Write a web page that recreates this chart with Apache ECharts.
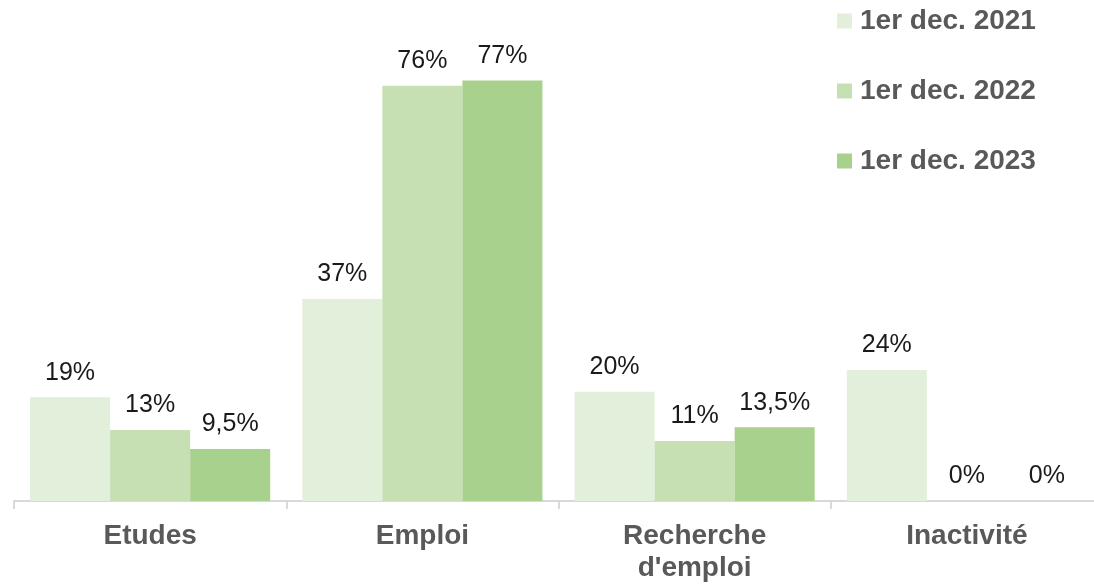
<!DOCTYPE html>
<html>
<head>
<meta charset="utf-8">
<script src="https://cdn.jsdelivr.net/npm/echarts@6/dist/echarts.min.js"></script>
<style>
  html, body { margin: 0; padding: 0; background: #fff; overflow: hidden; }
  #chart { width: 1103px; height: 586px; }
</style>
</head>
<body>
<div id="chart"></div>
<script>
var categories = ['Etudes', 'Emploi', "Recherche\nd'emploi", 'Inactivité'];
var seriesNames = ['1er dec. 2021', '1er dec. 2022', '1er dec. 2023'];
var values2021 = [19, 37, 20, 24];
var values2022 = [13, 76, 11, 0];
var values2023 = [9.5, 77, 13.5, 0];
var colors = ['#E2EFDA', '#C6E0B4', '#A9D18E'];

function fmt(p) {
  return String(p.value).replace('.', ',') + '%';
}

function makeSeries(name, data, color) {
  return {
    name: name,
    type: 'bar',
    data: data,
    barGap: '0%',
    barCategoryGap: '11.8%',
    itemStyle: { color: color },
    label: {
      show: true,
      position: 'top',
      distance: 12,
      formatter: fmt,
      fontFamily: 'Liberation Sans, Arial, sans-serif',
      fontSize: 25,
      color: '#1a1a1a'
    }
  };
}

// chart div is a bit wider than the window: the last axis tick sits just off-screen
var chart = echarts.init(document.getElementById('chart'));
chart.setOption({
  animation: false,
  color: colors,
  legend: {
    orient: 'vertical',
    left: 837,
    top: 7,
    padding: 0,
    itemWidth: 15,
    itemHeight: 15,
    itemGap: 42,
    icon: 'rect',
    data: seriesNames,
    textStyle: {
      fontFamily: 'Liberation Sans, Arial, sans-serif',
      fontSize: 28,
      fontWeight: 'bold',
      color: '#595959',
      padding: [0, 0, 0, 3]
    }
  },
  grid: {
    left: 14,
    right: 0,
    top: 64,
    height: 437
  },
  xAxis: {
    type: 'category',
    data: categories,
    axisLine: { lineStyle: { color: '#d9d9d9', width: 2 } },
    axisTick: { show: true, length: 8, lineStyle: { color: '#d9d9d9', width: 2 } },
    axisLabel: {
      margin: 19,
      fontFamily: 'Liberation Sans, Arial, sans-serif',
      fontSize: 28,
      fontWeight: 'bold',
      color: '#595959',
      lineHeight: 32
    }
  },
  yAxis: {
    type: 'value',
    min: 0,
    max: 80,
    show: false,
    splitLine: { show: false }
  },
  series: [
    makeSeries(seriesNames[0], values2021, colors[0]),
    makeSeries(seriesNames[1], values2022, colors[1]),
    makeSeries(seriesNames[2], values2023, colors[2])
  ]
});
</script>
</body>
</html>
